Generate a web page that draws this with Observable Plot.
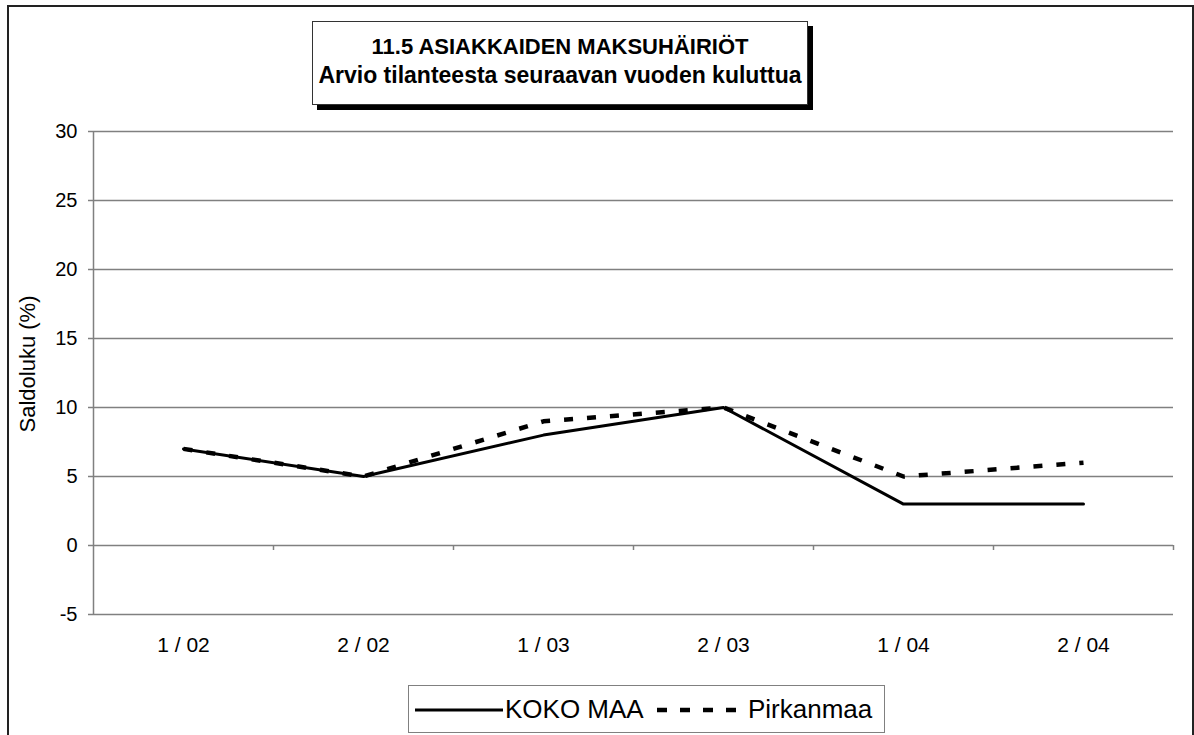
<!DOCTYPE html>
<html>
<head>
<meta charset="utf-8">
<script src="https://cdn.jsdelivr.net/npm/d3@7"></script>
<script src="https://cdn.jsdelivr.net/npm/@observablehq/plot@0.6"></script>
<style>
  html, body { margin: 0; padding: 0; background: #fff; overflow: hidden; }
  #wrap { position: relative; width: 1194px; height: 735px; font-family: "Liberation Sans", Arial, sans-serif; }
  #frame { position: absolute; left: 7px; top: 5px; width: 1187px; height: 800px; border: 2px solid #222; box-sizing: border-box; }
  #chart { position: absolute; left: 0; top: 0; }
  #title { position: absolute; left: 312px; top: 21px; width: 496px; height: 84px; box-sizing: border-box;
           border: 1px solid #333; background: #fff; box-shadow: 5px 5px 0 #000;
           font-weight: bold; line-height: 29px; text-align: center; padding-top: 10px; color: #000; }
  #title .l1 { font-size: 22px; display: block; }
  #title .l2 { font-size: 23px; display: block; }
  #legend { position: absolute; left: 408px; top: 685px; width: 477px; height: 48px; box-sizing: border-box;
            border: 1px solid #808080; background: #fff; font-size: 26px; color: #000; }
  #legend svg, #legend span { position: absolute; }
</style>
</head>
<body>
<div id="wrap">
  <div id="frame"></div>
  <div id="chart"></div>
  <div id="title"><span class="l1">11.5 ASIAKKAIDEN MAKSUHÄIRIÖT</span><span class="l2">Arvio tilanteesta seuraavan vuoden kuluttua</span></div>
  <div id="legend">
    <svg width="88" height="20" style="left:6px;top:14px"><line x1="0" x2="88" y1="10" y2="10" stroke="#000" stroke-width="3"/></svg>
    <span id="lg1" style="left:96px;top:8px;line-height:30px"></span>
    <svg width="84" height="20" style="left:248px;top:14px"><line x1="0" x2="84" y1="10" y2="10" stroke="#000" stroke-width="4.5" stroke-dasharray="10,13"/></svg>
    <span id="lg2" style="left:339px;top:8px;line-height:30px"></span>
  </div>
</div>
<script>
const periods = ["1 / 02", "2 / 02", "1 / 03", "2 / 03", "1 / 04", "2 / 04"];
const seriesNames = ["KOKO MAA", "Pirkanmaa"];
const kokoMaa = [7, 5, 8, 10, 3, 3];
const pirkanmaa = [7, 5, 9, 10, 5, 6];
const yTicks = [-5, 0, 5, 10, 15, 20, 25, 30];
const yLabel = "Saldoluku (%)";

document.getElementById("lg1").textContent = seriesNames[0];
document.getElementById("lg2").textContent = seriesNames[1];

const idx = periods.map((_, i) => i);
const bounds = d3.range(-0.5, periods.length, 1);
const kokoData = idx.map(i => ({i, v: kokoMaa[i]}));
const pirkData = idx.map(i => ({i, v: pirkanmaa[i]}));

const chart = Plot.plot({
  width: 1194,
  height: 735,
  marginLeft: 93,
  marginRight: 21,
  marginTop: 131,
  marginBottom: 121,
  style: {fontFamily: "'Liberation Sans', Arial, sans-serif", fontSize: "20px", background: "transparent"},
  x: {type: "linear", domain: [-0.5, periods.length - 0.5]},
  y: {type: "linear", domain: [-5, 30]},
  marks: [
    Plot.ruleY(yTicks, {stroke: "#808080", strokeWidth: 1.5}),
    Plot.ruleX([bounds[0]], {stroke: "#808080", strokeWidth: 1.5}),
    Plot.ruleX(bounds.slice(1), {y1: 0, y2: 0, insetBottom: -5, stroke: "#808080", strokeWidth: 1.5}),
    Plot.axisY(yTicks, {tickSize: 5, tickPadding: 11, fontSize: 20, stroke: "#808080", fill: "#000", label: null, strokeWidth: 1.5, tickFormat: d => String(d)}),
    Plot.axisX(idx, {tickSize: 0, tickPadding: 23, fontSize: 21, fill: "#000", label: null, tickFormat: i => periods[i]}),
    Plot.text([yLabel], {frameAnchor: "left", textAnchor: "middle", rotate: -90, dx: -66, dy: -9, fontSize: 22, fill: "#000"}),
    Plot.line(kokoData, {x: "i", y: "v", stroke: "#000", strokeWidth: 3}),
    Plot.line(pirkData, {x: "i", y: "v", stroke: "#000", strokeWidth: 4.5, strokeDasharray: "9,14", strokeLinecap: "butt"})
  ]
});
document.getElementById("chart").appendChild(chart);
</script>
</body>
</html>
